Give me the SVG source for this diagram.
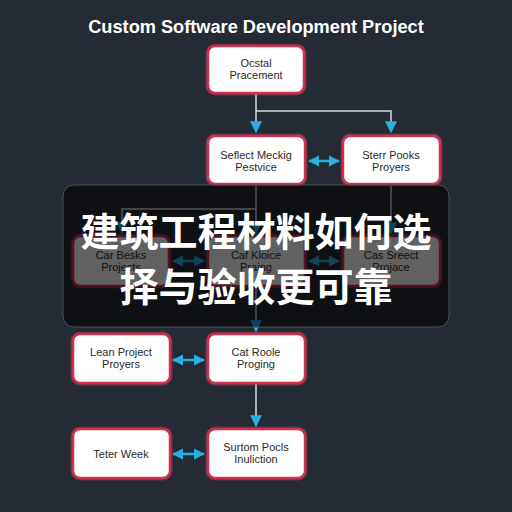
<svg xmlns="http://www.w3.org/2000/svg" width="512" height="512" viewBox="0 0 512 512">
<defs>
<style>
.bg{fill:#252b34}
.box{fill:#ffffff;stroke:#d0304f;stroke-width:2.5}
.glow{fill:none;stroke:#e04a6a;stroke-width:5;opacity:0.35}
.lbl{font-family:"Liberation Sans","DejaVu Sans",sans-serif;font-size:11px;fill:#2a2a2a;text-anchor:middle}
.line{fill:none;stroke:#d8dde2;stroke-width:1.5}
.dbl{fill:none;stroke:#2aaee0;stroke-width:2.5}
.title{font-family:"Liberation Sans","DejaVu Sans",sans-serif;font-size:18.2px;font-weight:bold;fill:#ffffff;text-anchor:middle}
.cjk{font-family:"Noto Sans CJK SC","Noto Sans CJK JP",sans-serif;font-size:39px;font-weight:bold;fill:#ffffff;text-anchor:middle}
</style>
<marker id="ah" viewBox="0 0 10 10" refX="9" refY="5" markerWidth="4.5" markerHeight="4.5" orient="auto-start-reverse" markerUnits="strokeWidth">
<path d="M0,0 L10,5 L0,10 z" fill="#2aaee0"/>
</marker>
<marker id="ah2" viewBox="0 0 10 10" refX="9" refY="5" markerWidth="8" markerHeight="8" orient="auto" markerUnits="strokeWidth">
<path d="M0,0 L10,5 L0,10 z" fill="#2aaee0"/>
</marker>
</defs>
<rect class="bg" x="0" y="0" width="512" height="512"/>
<text class="title" x="256" y="33">Custom Software Development Project</text>

<g id="connectors">
<path class="line" d="M256,93 V132" marker-end="url(#ah2)"/>
<path class="line" d="M256,111 H391 V132" marker-end="url(#ah2)"/>
<path class="dbl" d="M309,161 H339" marker-start="url(#ah)" marker-end="url(#ah)"/>
<path class="line" d="M256,184 V233" marker-end="url(#ah2)"/>
<path class="line" d="M256,209 H122 V233" marker-end="url(#ah2)"/>
<path class="line" d="M391,184 V233" marker-end="url(#ah2)"/>
<path class="dbl" d="M173,261 H204" marker-start="url(#ah)" marker-end="url(#ah)"/>
<path class="dbl" d="M309,261 H339" marker-start="url(#ah)" marker-end="url(#ah)"/>
<path class="line" d="M256,286 V331" marker-end="url(#ah2)"/>
<path class="dbl" d="M173,360 H204" marker-start="url(#ah)" marker-end="url(#ah)"/>
<path class="line" d="M256,383 V426" marker-end="url(#ah2)"/>
<path class="dbl" d="M173,454 H204" marker-start="url(#ah)" marker-end="url(#ah)"/>
</g>

<g id="n1">
<rect class="glow" x="208" y="46" width="96" height="47" rx="7"/>
<rect class="box" x="208" y="46" width="96" height="47" rx="7"/>
<text class="lbl" x="256" y="67">Ocstal</text>
<text class="lbl" x="256" y="79">Pracement</text>
</g>
<g id="n2">
<rect class="glow" x="208" y="136" width="97" height="48" rx="7"/>
<rect class="box" x="208" y="136" width="97" height="48" rx="7"/>
<text class="lbl" x="256" y="159">Seflect Meckig</text>
<text class="lbl" x="256" y="171">Pestvice</text>
</g>
<g id="n3">
<rect class="glow" x="343" y="136" width="97" height="48" rx="7"/>
<rect class="box" x="343" y="136" width="97" height="48" rx="7"/>
<text class="lbl" x="391" y="159">Sterr Pooks</text>
<text class="lbl" x="391" y="171">Proyers</text>
</g>
<g id="n4">
<rect class="glow" x="73" y="236" width="96" height="50" rx="7"/>
<rect class="box" x="73" y="236" width="96" height="50" rx="7"/>
<text class="lbl" x="121" y="259">Car Besks</text>
<text class="lbl" x="121" y="271">Projects</text>
</g>
<g id="n5">
<rect class="glow" x="208" y="236" width="97" height="50" rx="7"/>
<rect class="box" x="208" y="236" width="97" height="50" rx="7"/>
<text class="lbl" x="256" y="259">Caf Kloice</text>
<text class="lbl" x="256" y="271">Praing</text>
</g>
<g id="n6">
<rect class="glow" x="343" y="236" width="97" height="50" rx="7"/>
<rect class="box" x="343" y="236" width="97" height="50" rx="7"/>
<text class="lbl" x="391" y="259">Cas Sreect</text>
<text class="lbl" x="391" y="271">Projace</text>
</g>
<g id="n7">
<rect class="glow" x="73" y="334" width="97" height="49" rx="7"/>
<rect class="box" x="73" y="334" width="97" height="49" rx="7"/>
<text class="lbl" x="121" y="356">Lean Project</text>
<text class="lbl" x="121" y="368">Proyers</text>
</g>
<g id="n8">
<rect class="glow" x="208" y="334" width="97" height="49" rx="7"/>
<rect class="box" x="208" y="334" width="97" height="49" rx="7"/>
<text class="lbl" x="256" y="356">Cat Roole</text>
<text class="lbl" x="256" y="368">Proging</text>
</g>
<g id="n9">
<rect class="glow" x="73" y="429" width="97" height="49" rx="7"/>
<rect class="box" x="73" y="429" width="97" height="49" rx="7"/>
<text class="lbl" x="121" y="458">Teter Week</text>
</g>
<g id="n10">
<rect class="glow" x="208" y="429" width="97" height="49" rx="7"/>
<rect class="box" x="208" y="429" width="97" height="49" rx="7"/>
<text class="lbl" x="256" y="451">Surtom Pocls</text>
<text class="lbl" x="256" y="463">Inuliction</text>
</g>

<g id="overlay">
<rect x="63" y="185" width="386" height="142" rx="11" fill="#000000" fill-opacity="0.62" stroke="#4a5058" stroke-width="1"/>
<text class="cjk" x="256" y="246">建筑工程材料如何选</text>
<text class="cjk" x="256" y="301">择与验收更可靠</text>
</g>
</svg>
